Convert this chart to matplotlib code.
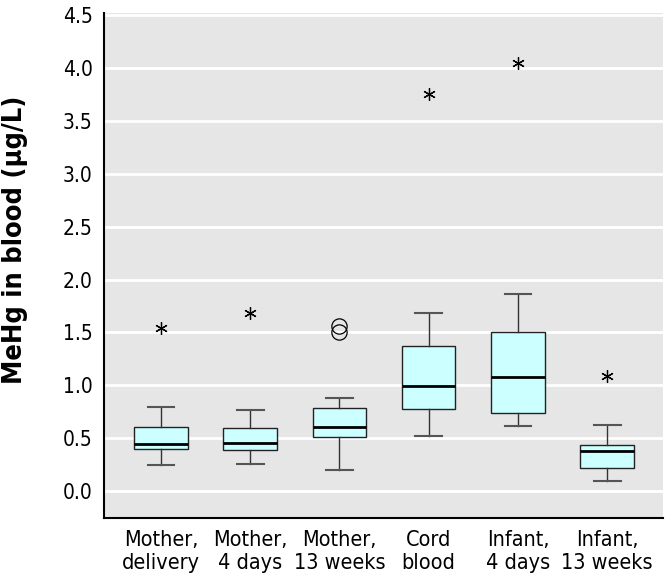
import matplotlib
matplotlib.use("Agg")
import matplotlib.pyplot as plt

labels = ["Mother,\ndelivery", "Mother,\n4 days", "Mother,\n13 weeks",
          "Cord\nblood", "Infant,\n4 days", "Infant,\n13 weeks"]
whislo = [0.25, 0.26, 0.20, 0.52, 0.62, 0.10]
q1 = [0.40, 0.39, 0.51, 0.78, 0.74, 0.22]
med = [0.45, 0.46, 0.61, 0.99, 1.08, 0.38]
q3 = [0.61, 0.60, 0.79, 1.37, 1.50, 0.44]
whishi = [0.80, 0.77, 0.88, 1.68, 1.86, 0.63]
outliers = [[1.54], [1.68], [1.50, 1.56], [3.75], [4.05], [1.09]]
circle_groups = [2]  # groups whose outliers are drawn as circles
yticks = [0, 0.5, 1.0, 1.5, 2.0, 2.5, 3.0, 3.5, 4.0, 4.5]

plt.rcParams['font.family'] = ['DejaVu Sans']
plt.rcParams['font.stretch'] = 'condensed'

stats = []
for i in range(len(labels)):
    stats.append(dict(label=labels[i], whislo=whislo[i], q1=q1[i], med=med[i],
                      q3=q3[i], whishi=whishi[i], fliers=outliers[i]))

fig = plt.figure(figsize=(6.66, 5.83), dpi=100)
ax = fig.add_axes([0.156, 0.112, 0.84, 0.866])
ax.set_facecolor("#e6e6e6")
ax.grid(axis="y", color="white", linewidth=2)
ax.set_axisbelow(True)

res = ax.bxp(stats, widths=0.6, patch_artist=True,
             boxprops=dict(facecolor="#ccffff", edgecolor="#222222", linewidth=1),
             medianprops=dict(color="black", linewidth=2),
             whiskerprops=dict(color="#333333", linewidth=1),
             capprops=dict(color="#555555", linewidth=1.5),
             flierprops=dict(marker=(6, 2, 0), markersize=9, markeredgecolor="black",
                             markeredgewidth=0.9, linestyle="none"),
             capwidths=0.3)
for i in circle_groups:
    fl = res["fliers"][i]
    fl.set_marker("o")
    fl.set_markerfacecolor("none")
    fl.set_markersize(11)

ax.set_xlim(0.36, 6.63)
ax.set_ylim(-0.25, 4.52)
ax.set_yticks(yticks)
ax.set_yticklabels(["%.1f" % v for v in yticks])
ax.tick_params(axis="both", length=0, labelsize=15, pad=8)
ax.tick_params(axis="x", pad=9, labelsize=15.5)
for s in ["top", "right"]:
    ax.spines[s].set_visible(False)
for s in ["left", "bottom"]:
    ax.spines[s].set_linewidth(1.5)
ax.set_ylabel("MeHg in blood (\u03bcg/L)", fontsize=19.5, fontweight="bold")
ax.yaxis.set_label_coords(-0.136, 0.55)

fig.savefig("out.png", dpi=100)
